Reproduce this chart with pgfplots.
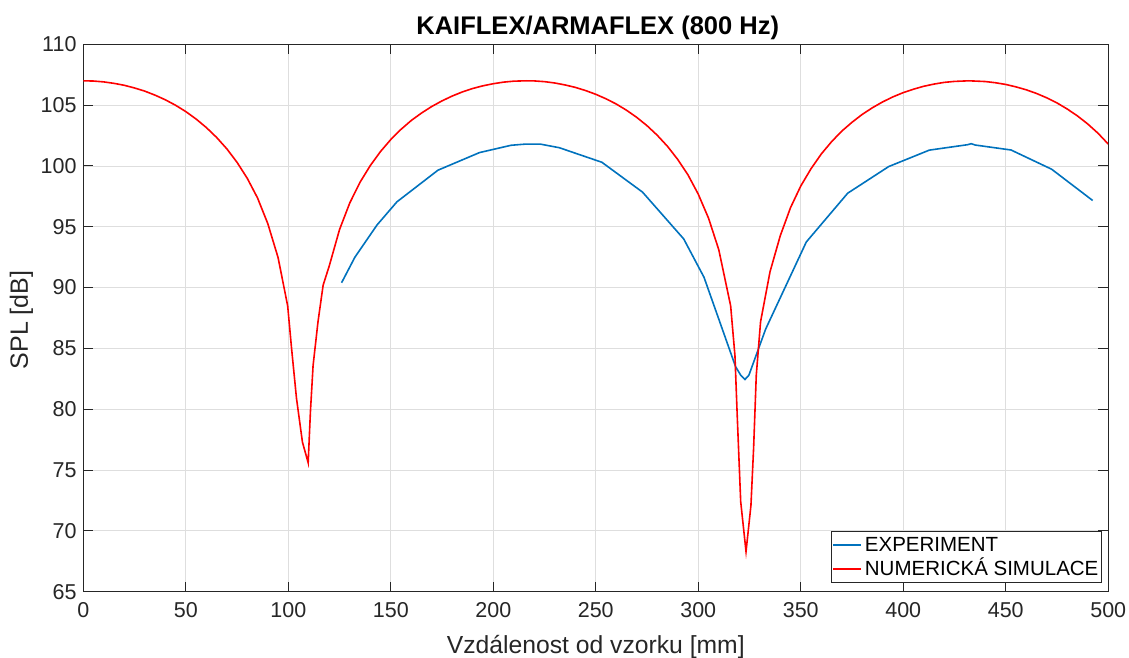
\documentclass[border=0pt]{standalone}
\usepackage{fontspec}
\setmainfont{Liberation Sans}
\usepackage{pgfplots}
\pgfplotsset{compat=1.18}
\definecolor{mblue}{rgb}{0,0.447,0.741}
\definecolor{axgray}{rgb}{0.15,0.15,0.15}
\begin{document}
\begin{tikzpicture}
\begin{axis}[
  at={(0pt,0pt)}, anchor=south west,
  scale only axis,
  width=1025pt, height=547.4pt,
  xmin=0, xmax=500, ymin=65, ymax=110,
  xtick={0,50,...,500}, ytick={65,70,...,110},
  /pgf/number format/assume math mode=true,
  tick align=inside, major tick length=10pt,
  xtick pos=both, ytick pos=both,
  axis line style={axgray, line width=1pt},
  every tick/.style={axgray, line width=1pt},
  grid=major,
  major grid style={black!13, line width=0.8pt},
  tick label style={font=\fontsize{21.5}{24}\selectfont, text=axgray},
  xticklabel style={yshift=-7.5pt},
  yticklabel style={xshift=-3.3pt},
  title={\fontsize{25.5}{28}\selectfont\bfseries KAIFLEX/ARMAFLEX (800 Hz)},
  title style={at={(axis description cs:0.5,1)}, anchor=base, yshift=3.8pt, xshift=2pt},
  xlabel={\fontsize{24.7}{27}\selectfont Vzdálenost od vzorku [mm]},
  xlabel style={text=axgray, at={(axis description cs:0.5,0)}, anchor=base, yshift=-61.6pt},
  ylabel={\fontsize{25}{28}\selectfont SPL [dB]},
  ylabel style={text=axgray, at={(axis description cs:0,0.5)}, anchor=base, yshift=55.3pt, xshift=-2pt},
  legend style={at={(0.99356,0.01644)}, anchor=south east, draw=axgray,
    font=\fontsize{20.5}{23}\selectfont, inner sep=1pt,
    nodes={text height=16.5pt, text depth=4pt, inner sep=2pt},
    row sep=0pt, column sep=1pt},
  legend cell align=left,
  legend image code/.code={\draw[#1] (0pt,0pt) -- (28pt,0pt);},
]
\addplot[color=mblue, line width=1.6pt] coordinates {
(126.0,90.4) (132.5,92.5) (143.3,95.15) (153.0,97.05) (173.0,99.65)
(193.3,101.1) (208.7,101.7) (216.0,101.8) (222.8,101.8) (232.2,101.5)
(253.0,100.3) (272.8,97.85) (292.9,94.0) (302.8,90.85) (318.2,83.5)
(320.7,82.8) (322.8,82.45) (324.7,82.8) (332.9,86.6) (352.7,93.75)
(372.9,97.76) (392.9,99.95) (412.7,101.3) (431.5,101.75) (433.1,101.83)
(435.1,101.72) (452.6,101.31) (472.4,99.73) (492.4,97.16)
};
\addlegendentry{EXPERIMENT}
\addplot[color=red, line width=1.6pt] coordinates {
(0,107.00) (5,106.98) (10,106.91) (15,106.79) (20,106.63) (25,106.41)
(30,106.15) (35,105.82) (40,105.44) (45,104.99) (50,104.47) (55,103.86)
(60,103.16) (65,102.35) (70,101.41) (75,100.30) (80,98.98) (85,97.37)
(90,95.26) (95,92.48) (99.7,88.5) (101.6,85.0) (104.0,80.9) (106.9,77.3)
(109.7,75.6) (110.8,79.8) (112.1,83.6) (114.5,87.2) (117.0,90.2)
(120,91.79) (125,94.77) (130,96.96) (135,98.66) (140,100.03) (145,101.19)
(150,102.17) (155,103.01) (160,103.74) (165,104.35) (170,104.89)
(175,105.35) (180,105.75) (185,106.09) (190,106.37) (195,106.59)
(200,106.76) (205,106.89) (210,106.97) (216,107.00) (220,106.99)
(225,106.93) (230,106.82) (235,106.66) (240,106.46) (245,106.20)
(250,105.89) (255,105.52) (260,105.09) (265,104.58) (270,103.99)
(275,103.31) (280,102.52) (285,101.61) (290,100.53) (295,99.26)
(300,97.68) (305,95.71) (310,93.12) (315.8,88.5) (317.9,84.4)
(319.0,79.5) (320.7,72.4) (323.3,68.3) (325.7,72.1) (327.0,76.8)
(328.3,82.8) (330.4,87.2) (335,91.3) (340,94.26) (345,96.57)
(350,98.35) (355,99.77) (360,100.98) (365,101.99) (370,102.86)
(375,103.59) (380,104.24) (385,104.79) (390,105.27) (395,105.68)
(400,106.03) (405,106.31) (410,106.55) (415,106.73) (420,106.87)
(425,106.95) (432,107.00) (440,106.94) (445,106.84) (450,106.70)
(455,106.50) (460,106.26) (465,105.96) (470,105.60) (475,105.18)
(480,104.68) (485,104.11) (490,103.45) (495,102.69) (500,101.80)
};
\addlegendentry{NUMERICKÁ SIMULACE}
\end{axis}
\pgfresetboundingbox
\path[use as bounding box] (-83.3pt,-65.3pt) rectangle (1045.7pt,591.7pt);
\end{tikzpicture}
\end{document}
